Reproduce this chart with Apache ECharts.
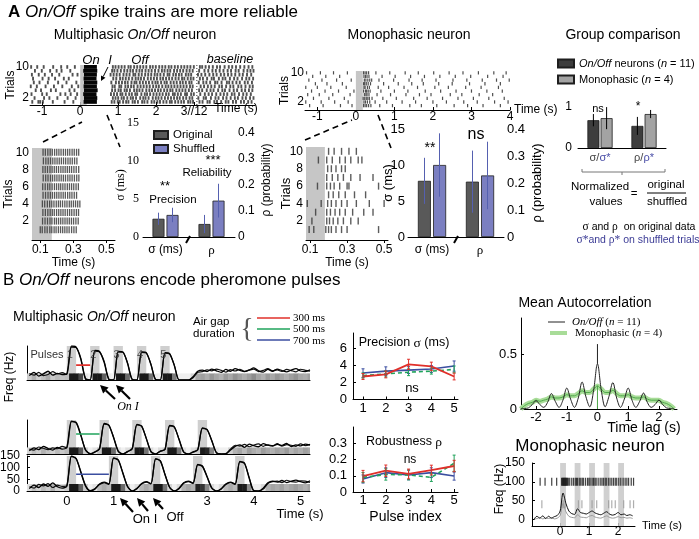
<!DOCTYPE html>
<html><head><meta charset="utf-8">
<script src="https://cdn.jsdelivr.net/npm/echarts@6/dist/echarts.min.js"></script>
<style>html,body{margin:0;padding:0;background:#fff}#c{width:699px;height:539px}</style>
</head><body><div id="c"></div>
<script>
const SANS='Liberation Sans, Arial, sans-serif';
const SERIF='Liberation Serif, Times New Roman, serif';

// ================= DATA =================
const mpRaster=[
 [-1.26,-1.1,-1.05,-0.98,-0.72,-0.41,-0.18,0.83,0.9,0.99,1.04,1.13,1.21,1.27,1.38,1.44,1.52,1.63,1.69,1.77,1.88,1.95,2.03,2.1,2.19,2.27,2.36,2.41,2.5,2.58,2.66,2.73,2.84,2.9,2.97,3.14,3.22,3.35,3.41,3.53,3.6,3.71,3.83,3.9,4.02,4.1,4.23,4.31,4.42,4.51],
 [-1.2,-0.95,-0.81,-0.6,-0.33,-0.12,0.86,0.93,1.0,1.09,1.15,1.24,1.33,1.39,1.47,1.58,1.66,1.72,1.8,1.91,1.99,2.06,2.14,2.23,2.31,2.39,2.47,2.55,2.62,2.71,2.79,2.88,2.95,3.11,3.25,3.31,3.44,3.56,3.64,3.76,3.85,3.96,4.07,4.15,4.27,4.36,4.47,4.56],
 [-1.28,-1.0,-0.88,-0.52,-0.39,-0.25,-0.08,0.81,0.89,0.97,1.06,1.11,1.2,1.29,1.36,1.45,1.5,1.61,1.7,1.76,1.84,1.93,2.01,2.09,2.17,2.26,2.33,2.44,2.49,2.57,2.65,2.76,2.81,2.92,2.99,3.16,3.28,3.38,3.47,3.58,3.69,3.78,3.87,3.99,4.06,4.18,4.29,4.38,4.49],
 [-1.17,-1.03,-0.77,-0.64,-0.28,-0.15,0.84,0.92,1.01,1.07,1.17,1.23,1.31,1.42,1.49,1.56,1.64,1.74,1.82,1.89,1.97,2.05,2.12,2.21,2.29,2.37,2.43,2.53,2.61,2.69,2.77,2.86,2.94,3.13,3.21,3.33,3.43,3.51,3.63,3.74,3.81,3.93,4.04,4.13,4.25,4.34,4.44,4.53],
 [-1.3,-1.14,-0.91,-0.69,-0.47,-0.22,-0.05,0.85,0.91,1.03,1.08,1.19,1.26,1.34,1.41,1.51,1.59,1.67,1.75,1.83,1.92,2.0,2.07,2.16,2.25,2.32,2.4,2.48,2.56,2.64,2.72,2.8,2.89,2.96,3.17,3.26,3.36,3.45,3.54,3.66,3.73,3.84,3.95,4.03,4.16,4.24,4.35,4.46,4.54],
 [-1.22,-1.07,-0.85,-0.58,-0.36,-0.1,0.82,0.94,1.02,1.1,1.18,1.25,1.35,1.43,1.48,1.57,1.65,1.73,1.81,1.9,1.98,2.04,2.13,2.22,2.28,2.38,2.46,2.54,2.63,2.7,2.78,2.87,2.93,3.12,3.24,3.32,3.42,3.55,3.61,3.72,3.86,3.92,4.01,4.11,4.2,4.33,4.41,4.52],
 [-1.24,-0.99,-0.83,-0.66,-0.43,-0.3,0.87,0.95,1.05,1.12,1.2,1.28,1.37,1.46,1.53,1.6,1.68,1.78,1.86,1.94,2.02,2.11,2.18,2.26,2.34,2.42,2.51,2.59,2.68,2.74,2.83,2.91,2.98,3.15,3.23,3.34,3.46,3.52,3.65,3.75,3.82,3.94,4.05,4.14,4.26,4.37,4.45,4.55],
 [-1.27,-1.09,-0.93,-0.74,-0.55,-0.2,-0.07,0.8,0.88,0.96,1.04,1.14,1.22,1.3,1.4,1.45,1.54,1.62,1.71,1.79,1.87,1.96,2.03,2.11,2.2,2.3,2.35,2.45,2.52,2.6,2.67,2.78,2.85,2.92,3.1,3.19,3.29,3.4,3.5,3.59,3.7,3.79,3.89,3.98,4.08,4.19,4.28,4.39,4.5],
 [-1.19,-1.01,-0.79,-0.62,-0.49,-0.26,0.84,0.9,0.98,1.07,1.16,1.24,1.32,1.39,1.48,1.56,1.63,1.72,1.8,1.88,1.97,2.06,2.15,2.22,2.3,2.37,2.47,2.55,2.63,2.71,2.8,2.88,2.96,3.13,3.27,3.37,3.48,3.57,3.67,3.77,3.88,3.97,4.09,4.17,4.3,4.4,4.48,4.56],
 [-1.29,-1.13,-0.96,-0.71,-0.5,-0.34,-0.14,0.86,0.93,1.01,1.09,1.17,1.27,1.33,1.42,1.5,1.58,1.66,1.74,1.84,1.91,1.99,2.08,2.16,2.24,2.33,2.4,2.49,2.57,2.66,2.74,2.82,2.9,2.99,3.15,3.21,3.3,3.39,3.49,3.6,3.68,3.8,3.91,4.0,4.1,4.21,4.32,4.43,4.53]
];
const mpOnBurst=[[0.09,0.44],[0.1,0.45],[0.08,0.43],[0.1,0.46],[0.09,0.44],[0.1,0.45],[0.09,0.43],[0.1,0.44],[0.08,0.45],[0.1,0.44]];
const mpStim=[0,0.17];
const mpBreakTime=3.07;
const mpZoomRaster=[
 [0.1,0.112,0.128,0.142,0.158,0.17,0.184,0.196,0.21,0.223,0.236,0.249,0.262,0.275,0.29,0.304,0.318],
 [0.114,0.129,0.144,0.159,0.171,0.186,0.198,0.211,0.224,0.237,0.25,0.263,0.276,0.289,0.302,0.316,0.33],
 [0.116,0.131,0.146,0.16,0.173,0.185,0.199,0.212,0.225,0.238,0.251,0.265,0.278,0.291,0.305,0.319,0.332],
 [0.113,0.127,0.143,0.157,0.17,0.183,0.197,0.21,0.222,0.235,0.249,0.262,0.276,0.288,0.301,0.314,0.327,0.34],
 [0.117,0.132,0.147,0.161,0.174,0.187,0.2,0.213,0.226,0.239,0.252,0.266,0.279,0.292,0.306,0.32],
 [0.115,0.13,0.145,0.158,0.172,0.186,0.199,0.212,0.224,0.237,0.25,0.264,0.277,0.29,0.303,0.317,0.331],
 [0.118,0.133,0.147,0.162,0.175,0.188,0.201,0.214,0.227,0.24,0.253,0.267,0.28,0.293,0.307,0.321,0.334],
 [0.116,0.13,0.144,0.159,0.172,0.185,0.198,0.211,0.225,0.238,0.251,0.264,0.277,0.29,0.304,0.318,0.333],
 [0.119,0.134,0.148,0.162,0.176,0.189,0.202,0.215,0.228,0.241,0.254,0.268,0.281,0.294,0.308,0.322],
 [0.117,0.131,0.146,0.16,0.173,0.187,0.2,0.213,0.226,0.24,0.253,0.266,0.279,0.293,0.306,0.32,0.333]
];
const monoRaster=[
 [-1.2,-0.85,-0.4,-0.1,0.2,0.24,0.28,0.33,0.39,0.62,0.95,1.4,1.7,2.1,2.55,2.9,3.3,3.75],
 [-1.3,-0.9,-0.55,-0.2,0.21,0.25,0.3,0.36,0.5,0.8,1.2,1.55,2.0,2.35,2.8,3.15,3.6,3.95],
 [-1.1,-0.7,-0.3,0.19,0.23,0.27,0.31,0.35,0.42,0.7,1.05,1.5,1.85,2.25,2.65,3.05,3.45,3.85],
 [-1.25,-0.95,-0.6,-0.15,0.22,0.26,0.29,0.34,0.55,0.9,1.3,1.65,1.95,2.45,2.75,3.2,3.55],
 [-1.15,-0.8,-0.45,-0.05,0.2,0.25,0.28,0.32,0.37,0.65,1.0,1.35,1.8,2.2,2.6,3.0,3.4,3.8],
 [-1.3,-1.0,-0.65,-0.25,0.21,0.24,0.3,0.35,0.58,0.85,1.25,1.6,2.05,2.4,2.85,3.25,3.7],
 [-1.05,-0.75,-0.35,0.2,0.23,0.27,0.32,0.38,0.72,1.1,1.45,1.75,2.15,2.5,2.95,3.35,3.75],
 [-1.22,-0.88,-0.5,-0.12,0.22,0.26,0.31,0.36,0.41,0.6,0.98,1.38,1.72,2.08,2.52,2.88,3.28,3.65,3.98],
 [-1.12,-0.78,-0.42,0.21,0.25,0.29,0.34,0.68,1.02,1.42,1.78,2.18,2.58,2.98,3.42,3.82],
 [-1.28,-0.92,-0.58,-0.22,0.2,0.24,0.28,0.33,0.52,0.88,1.28,1.62,2.02,2.42,2.78,3.18,3.58,3.9]
];
const monoStim=[0,0.18];
const monoZoomRaster=[
 [0.095,0.12,0.185,0.2,0.215,0.24,0.27,0.3,0.47],
 [0.11,0.19,0.205,0.225,0.25,0.28,0.32,0.36],
 [0.13,0.19,0.21,0.235,0.26,0.29,0.33,0.39,0.44],
 [0.085,0.16,0.195,0.215,0.24,0.27,0.3,0.35,0.42,0.5],
 [0.2,0.225,0.255,0.29,0.34,0.4],
 [0.14,0.19,0.21,0.23,0.26,0.3,0.31,0.47],
 [0.19,0.22,0.25,0.28,0.32,0.37,0.44],
 [0.195,0.215,0.24,0.27,0.29],
 [0.145,0.19,0.22,0.26,0.29,0.32,0.36,0.38],
 [0.2,0.23,0.27,0.31,0.35]
];
const barCats=['σ (ms)','ρ'];
const mpOrig=[2.4,0.05], mpOrigErr=[0.8,0.035];
const mpShuf=[2.9,0.14], mpShufErr=[0.95,0.065];
const monoOrig=[7.8,0.205], monoOrigErr=[3.2,0.115];
const monoShuf=[10,0.228], monoShufErr=[4.4,0.125];
const groupCats=['σ/σ*','ρ/ρ*'];
const groupOnOff=[0.68,0.54], groupOnOffErr=[0.15,0.22];
const groupMono=[0.73,0.83], groupMonoErr=[0.27,0.1];
const pulseDur=0.2;
const pulses300=[0,0.5,1,1.5,2];
const pulses500=[0,0.7,1.4,2.1,2.8];
const pulses700=[0,0.9,1.8,2.7,3.6];
const psthT0=-0.8, psthStep=0.1;
const sub1A=[20,35,18,28,40,22,30,25, 28,155,150,95,5, 0,135,130,80,3, 0,130,128,75,2, 0,128,125,70,2, 0,125,120,65,0, 0,0,15,40, 45,38,50,42,35,48,40,52,44,38,46,55,42,36,48,40,50,43,37,45,52,41,38,46];
const sub1B=[30,22,35,20,25,38,28,34, 25,150,148,100,8, 0,132,128,85,4, 0,128,126,78,3, 0,126,122,72,2, 0,122,118,68,0, 0,0,10,35, 38,46,42,50,44,36,47,41,49,39,45,50,38,44,52,42,46,39,48,43,37,49,44,40];
const sub2A=[15,28,20,35,25,18,30,22, 30,150,142,85,20,0,8, 25,139,132,75,12,0,10, 25,135,128,70,10,0,12, 22,130,124,66,8,0,10, 20,119,112,60,5,0,0,18, 35,42,30,45,38,33,47,40,36,44,39,48,34,42,37,45,40];
const sub2B=[22,18,32,26,20,28,24,35, 28,148,145,88,18,2,10, 22,136,130,78,14,0,12, 24,133,126,72,12,0,14, 20,128,122,68,10,0,8, 18,117,110,62,6,0,2,22, 40,36,44,33,41,46,35,42,38,47,36,43,40,35,46,38,44];
const sub3A=[10,25,15,30,20,35,18,12, 20,150,138,80,22,0,8,30,38, 30,142,132,75,18,0,10,32,40, 32,139,128,70,15,0,12,35,42, 35,114,105,60,12,0,10,30,38, 30,127,118,55,0,0,12,35,42, 38,45,36,42,47,40,35,44];
const sub3B=[18,12,28,22,32,15,25,20, 22,148,140,84,25,2,10,28,35, 28,140,134,78,20,0,12,30,38, 30,137,130,72,16,0,10,33,40, 32,112,108,62,14,0,8,28,36, 28,125,120,58,2,0,8,32,40, 42,36,46,40,38,44,42,37];
const freqTicksA=[0,100], freqTicksB=[50,150];
const sigmaTicks=[0,5,10,15];
const gapLineHz=[68,91,72];
const pulseLabelHz=114;
const pulseIdx=[1,2,3,4,5];
const precRed=[2.7,2.94,4.12,3.88,2.7], precRedErr=[0.35,0.4,0.6,0.5,0.4];
const precGreen=[2.82,3.0,3.2,3.33,3.53], precGreenErr=[0.3,0.35,0.4,0.35,0.4];
const precBlue=[3.1,3.33,3.45,3.57,3.92], precBlueErr=[0.5,0.5,0.4,0.4,0.6];
const robRed=[0.098,0.131,0.111,0.135,0.16], robRedErr=[0.035,0.035,0.03,0.03,0.035];
const robGreen=[0.09,0.108,0.105,0.09,0.177], robGreenErr=[0.03,0.035,0.03,0.025,0.05];
const robBlue=[0.08,0.119,0.105,0.119,0.098], robBlueErr=[0.025,0.03,0.03,0.03,0.025];
const acfT0=-2.5, acfStep=0.125;
const acfOnOff=[0.0,0.005,0.01,0.04,0.075,0.04,0.015,0.06,0.14,0.07,0.015,0.08,0.19,0.09,0.015,0.1,0.245,0.11,0.02,0.17,0.41,0.17,0.02,0.115,0.24,0.1,0.015,0.09,0.19,0.08,0.015,0.07,0.145,0.06,0.015,0.04,0.08,0.04,0.01,0.005,0.0];
const acfOnOffZeroLag=0.59;
const acfMono=[0.0,0.03,0.05,0.06,0.08,0.07,0.08,0.09,0.11,0.1,0.1,0.11,0.13,0.12,0.12,0.14,0.165,0.15,0.15,0.18,0.21,0.18,0.15,0.15,0.17,0.14,0.12,0.12,0.13,0.11,0.1,0.1,0.11,0.09,0.08,0.08,0.08,0.06,0.05,0.03,0.0];
const monoPulses=[0,0.5,1,1.5,2];
const monoT0=-0.9, monoStep=0.1;
const monoPsth=[0,8,3,9,2,8,3,7,10,22,70,42,22,15,13,28,18,16,14,18,22,17,14,12,16,20,14,11,13,18,12,14,10,12,9];
const monoPsthGray=[0,2,4,1,3,2,4,1,3,10,42,20,8,5,4,12,6,5,4,8,10,6,4,3,6,9,5,3,4,7,4,5,3,4,2];
const monoSpikes100=[-0.69,-0.52,-0.29,-0.12,0.05,0.08,0.1,0.12,0.14,0.16,0.18,0.2,0.22,0.25,0.28,0.33,0.4,0.46,0.52,0.56,0.6,0.66,0.71,0.76,0.8,0.87,0.94,0.99,1.03,1.1,1.15,1.2,1.24,1.31,1.38,1.44,1.49,1.55,1.59,1.66,1.72,1.78,1.84,1.9,1.95,2.02,2.09,2.17,2.24,2.3,2.36,2.45,2.53];
const monoSpikes50=[-0.63,0.06,0.11,0.17,0.63,0.75,1.1,1.26,1.67,1.78,1.9,2.19,2.41,2.53];
const monoRowHz=[100,40];

// ================= BUILD =================
const psthT=sub1A.map((_,i)=>+(psthT0+i*psthStep).toFixed(3));
const acfLag=acfOnOff.map((_,i)=>+(acfT0+i*acfStep).toFixed(3));
const monoT=monoPsth.map((_,i)=>+(monoT0+i*monoStep).toFixed(3));
const RED='#e0302a', GREEN='#1fa35b', BLUE='#3b4ea0', ERRB='#5560b0';

const NS={show:false};
const AL={onZero:false,lineStyle:{color:'#000',width:1}};
const NOL={show:false,onZero:false};
const LAB=o=>Object.assign({color:'#000',fontSize:12,fontFamily:SANS,hideOverlap:false},o||{});
const vA=(gi,min,max,o)=>Object.assign({gridIndex:gi,type:'value',min,max,splitLine:NS,axisLine:AL,axisTick:NS,axisLabel:{show:false},nameMoveOverlap:false},o||{});
const tk=(v,o)=>Object.assign({customValues:v,inside:true,length:3,lineStyle:{color:'#000'}},o||{});
const lb=(v,o)=>LAB(Object.assign({customValues:v,showMinLabel:true,showMaxLabel:true},o||{}));

const grid=[
 {left:30,top:65,width:225,height:40},
 {left:32,top:148,width:83,height:92},
 {left:143,top:123,width:45,height:114},
 {left:188,top:123,width:47,height:114},
 {left:305,top:71,width:205,height:39},
 {left:306,top:147,width:82,height:93},
 {left:408,top:129,width:48,height:108},
 {left:456,top:129,width:48,height:108},
 {left:578,top:103,width:88,height:45},
 {left:27,top:346,width:283,height:34},
 {left:27,top:420,width:283,height:34},
 {left:27,top:456,width:283,height:35},
 {left:353,top:333,width:105,height:66.5},
 {left:353,top:427,width:105,height:65},
 {left:521,top:318,width:156,height:91},
 {left:532,top:463,width:103,height:63}
].map(g=>Object.assign({outerBoundsMode:'none',containLabel:false},g));

const catX=(gi,data,o)=>Object.assign({gridIndex:gi,type:'category',data,axisLine:AL,axisTick:NS,axisLabel:LAB({margin:7,interval:0})},o||{});
const xAxis=[
 vA(0,-1.32,4.6,{axisTick:tk([-1,0,1,2,3]),axisLabel:lb([-1,0,1,2,3],{margin:1,formatter:v=>v===3?'3//12':String(v)})}),
 vA(1,0.05,0.553,{axisTick:tk([0.1,0.3,0.5],{inside:false}),axisLabel:lb([0.1,0.3,0.5],{margin:4}),name:'Time (s)',nameLocation:'middle',nameGap:17,nameTextStyle:LAB()}),
 catX(2,[barCats[0]]),
 catX(3,[barCats[1]],{axisLabel:LAB({margin:7,interval:0,fontFamily:SERIF,fontSize:13})}),
 vA(4,-1.32,4.0,{axisTick:tk([-1,0,1,2,3,4]),axisLabel:lb([-1,0,1,2,3,4],{margin:1}),name:'Time (s)',nameLocation:'end',nameGap:4,nameTextStyle:LAB()}),
 vA(5,0.078,0.521,{axisTick:tk([0.1,0.3,0.5],{inside:false}),axisLabel:lb([0.1,0.3,0.5],{margin:4}),name:'Time (s)',nameLocation:'middle',nameGap:17,nameTextStyle:LAB()}),
 catX(6,[barCats[0]]),
 catX(7,[barCats[1]],{axisLabel:LAB({margin:7,interval:0,fontFamily:SERIF,fontSize:13})}),
 catX(8,groupCats,{axisLabel:LAB({margin:4,interval:0,fontSize:11,color:'#444',formatter:v=>{const p=v.split('/');return p[0]+'/{b|'+p[1]+'}';},rich:{b:{color:'#4b4fa8',fontSize:11,fontFamily:SANS}}})}),
 vA(9,-0.85,5.2,{axisTick:tk([0,1,2,3,4,5])}),
 vA(10,-0.85,5.2,{axisTick:tk([0,1,2,3,4,5])}),
 vA(11,-0.85,5.2,{axisTick:tk([0,1,2,3,4,5]),axisLabel:lb([0,1,3,4,5],{margin:4,fontSize:13})}),
 vA(12,0.56,5.17,{axisTick:tk(pulseIdx),axisLabel:lb(pulseIdx,{fontSize:13,margin:2})}),
 vA(13,0.56,5.17,{axisTick:tk(pulseIdx),axisLabel:lb(pulseIdx,{fontSize:13,margin:2}),name:'Pulse index',nameLocation:'middle',nameGap:18,nameTextStyle:LAB({fontSize:14})}),
 vA(14,-2.49,2.59,{axisTick:tk([-2,-1,0,1,2]),axisLabel:lb([-2,-1,0,1,2],{fontSize:13,margin:2})}),
 vA(15,-0.97,2.58,{axisTick:tk([0,1,2]),axisLabel:lb([0,1,2],{fontSize:12,margin:0}),name:'Time (s)',nameLocation:'end',nameGap:7,nameTextStyle:LAB({fontSize:11})})
];
const yAxis=[
 vA(0,0.2,10.5,{axisLine:NOL,axisLabel:lb([2,10],{margin:1}),name:'Trials',nameLocation:'middle',nameGap:13,nameTextStyle:LAB()}),
 vA(1,-0.2,10.5,{axisLine:NOL,axisLabel:lb([2,4,6,8,10],{margin:3}),name:'Trials',nameLocation:'middle',nameGap:17,nameTextStyle:LAB()}),
 vA(2,0,15,{position:'left',axisTick:tk(sigmaTicks)}),
 vA(3,0,0.439,{position:'right',axisTick:tk([0,0.1,0.2,0.3,0.4]),axisLabel:lb([0,0.1,0.2,0.3,0.4],{margin:3}),name:'ρ (probability)',nameLocation:'middle',nameGap:26,nameRotate:90,nameTextStyle:LAB()}),
 vA(4,-0.2,10.5,{axisLine:NOL,axisLabel:lb([2,10],{margin:1}),name:'Trials',nameLocation:'middle',nameGap:14,nameTextStyle:LAB()}),
 vA(5,-0.2,10.5,{axisLine:NOL,axisLabel:lb([2,4,6,8,10],{margin:3}),name:'Trials',nameLocation:'middle',nameGap:13,nameTextStyle:LAB({fontSize:13})}),
 vA(6,0,15,{position:'left',axisTick:tk(sigmaTicks),axisLabel:lb(sigmaTicks,{margin:3,fontSize:13}),name:'σ (ms)',nameLocation:'middle',nameGap:13,nameTextStyle:LAB({fontSize:13})}),
 vA(7,0,0.4,{position:'right',axisTick:tk([0,0.1,0.2,0.3,0.4]),axisLabel:lb([0,0.1,0.2,0.3,0.4],{margin:3,fontSize:13}),name:'ρ (probability)',nameLocation:'middle',nameGap:27,nameRotate:90,nameTextStyle:LAB({fontSize:13})}),
 vA(8,0,1.1,{axisLabel:lb([0,1],{margin:6,fontSize:12})}),
 vA(9,0,155,{}),
 vA(10,0,155,{}),
 vA(11,0,150,{position:'left',axisTick:tk([0,50,100,150]),axisLabel:lb(freqTicksA,{margin:7,fontSize:12})}),
 vA(12,0,7.8,{axisTick:tk([0,2,4,6]),axisLabel:lb([0,2,4,6],{fontSize:13,margin:6})}),
 vA(13,0,0.4,{axisTick:tk([0,0.1,0.2,0.3]),axisLabel:lb([0,0.1,0.2,0.3],{fontSize:13,margin:6})}),
 vA(14,0,0.827,{axisTick:tk([0,0.5]),axisLabel:lb([0,0.5],{fontSize:13,margin:4})}),
 vA(15,-18,150,{axisTick:tk([0,50,100,150]),axisLabel:lb([0,50,100,150],{fontSize:12,margin:7})}),
 vA(11,0,150,{position:'left',offset:0,axisLine:NOL,axisLabel:lb(freqTicksB,{margin:7,fontSize:12})})
];

const S=[];
const ax=gi=>({xAxisIndex:gi,yAxisIndex:gi,silent:true});
function bands(gi,intervals,color,z){
 S.push(Object.assign(ax(gi),{type:'custom',z:z||1,encode:{x:[0,1]},data:intervals,
  renderItem:(p,api)=>{const cs=p.coordSys;let a=api.coord([api.value(0),0])[0],b=api.coord([api.value(1),0])[0];
   a=Math.max(a,cs.x);b=Math.min(b,cs.x+cs.width);if(b<=a)return null;
   return {type:'rect',shape:{x:a,y:cs.y,width:b-a,height:cs.height},style:{fill:color}};}}));
}
function raster(gi,rows,size,color){
 S.push(Object.assign(ax(gi),{type:'scatter',z:3,symbol:'rect',symbolSize:size,itemStyle:{color},
  data:rows.flatMap((r,i)=>r.map(t=>[t,i+1]))}));
}
function errs(gi,pts,color,off,cap){
 S.push(Object.assign(ax(gi),{type:'custom',z:8,data:pts,
  renderItem:(p,api)=>{const x=api.value(0),y=api.value(1),e=api.value(2),sd=api.value(3)||0;
   const a=api.coord([x,y+e]),b=api.coord([x,y-e]);const cx=a[0]+sd*off;
   const st={stroke:color,lineWidth:1};
   const ch=[{type:'line',shape:{x1:cx,y1:a[1],x2:cx,y2:b[1]},style:st}];
   if(cap){ch.push({type:'line',shape:{x1:cx-cap,y1:a[1],x2:cx+cap,y2:a[1]},style:st});
    ch.push({type:'line',shape:{x1:cx-cap,y1:b[1],x2:cx+cap,y2:b[1]},style:st});}
   return {type:'group',children:ch};}}));
}
function line(gi,xs,ys,color,width,o){
 S.push(Object.assign(ax(gi),{type:'line',z:5,symbol:'none',data:xs.map((x,i)=>[x,ys[i]]),lineStyle:{color,width}},o||{}));
}
function bars(gi,name,val,color,o){
 S.push(Object.assign(ax(gi),{type:'bar',name,data:val,barWidth:12,barGap:'17%',z:4,
  itemStyle:{color,borderColor:'#1e1e1e',borderWidth:0.8}},o||{}));
}
function rateBand(gi,ts,rates,topHz){
 S.push(Object.assign(ax(gi),{type:'custom',z:2,data:ts.map((t,i)=>[t,rates[i]]),
  renderItem:(p,api)=>{const cs=p.coordSys;const t=api.value(0),r=api.value(1);
   const a=api.coord([t-psthStep/2,0]),b=api.coord([t+psthStep/2,0]),tp=api.coord([t,topHz]);
   const x0=Math.max(a[0],cs.x),x1=Math.min(b[0]+0.5,cs.x+cs.width);if(x1<=x0)return null;
   const g=Math.round(240-Math.min(1,r/120)*215);
   return {type:'rect',shape:{x:x0,y:tp[1],width:x1-x0,height:a[1]-tp[1]},style:{fill:'rgb('+g+','+g+','+g+')'}};}}));
}

bands(0,[mpStim],'#c6c6c6');
S.push(Object.assign(ax(0),{type:'custom',z:3,data:mpOnBurst.map((b,i)=>[b[0],b[1],i+1]),encode:{x:[0,1],y:2},
 renderItem:(p,api)=>{const a=api.coord([api.value(0),api.value(2)+0.5]),b=api.coord([api.value(1),api.value(2)-0.5]);
  return {type:'rect',shape:{x:a[0],y:a[1],width:b[0]-a[0],height:b[1]-a[1]},style:{fill:'#050505'}};}}));
raster(0,mpRaster,[1.9,3.6],'#262626');
line(0,[mpBreakTime,mpBreakTime],[0.2,10.5],'#333',1,{lineStyle:{color:'#333',width:1,type:[1,2]}});
bands(1,[mpStim],'#c6c6c6');
raster(1,mpZoomRaster,[1.3,7],'#303030');
bars(2,'Original',[mpOrig[0]],'#595959');
bars(2,'Shuffled',[mpShuf[0]],'#7b7fc1');
errs(2,[[0,mpOrig[0],mpOrigErr[0],-1],[0,mpShuf[0],mpShufErr[0],1]],ERRB,7,0);
// sigma scale tick labels of the multiphasic bar chart, as point labels placed on the axis scale
S.push(Object.assign(ax(2),{type:'custom',z:20,data:sigmaTicks.map(v=>[0,v]),
 renderItem:(p,api)=>{const cs=p.coordSys;const y=api.coord([0,api.value(1)])[1];
  return {type:'text',x:cs.x-4,y:y,style:{text:String(api.value(1)),fontSize:12,fontFamily:SERIF,fill:'#000',align:'right',verticalAlign:'middle'}};}}));
bars(3,'Original',[mpOrig[1]],'#595959');
bars(3,'Shuffled',[mpShuf[1]],'#7b7fc1');
errs(3,[[0,mpOrig[1],mpOrigErr[1],-1],[0,mpShuf[1],mpShufErr[1],1]],ERRB,7,0);
bands(4,[monoStim],'#c6c6c6');
raster(4,monoRaster,[1.2,3.3],'#222');
bands(5,[monoStim],'#c6c6c6');
raster(5,monoZoomRaster,[1.4,7],'#333');
bars(6,'Original',[monoOrig[0]],'#595959',{barWidth:13});
bars(6,'Shuffled',[monoShuf[0]],'#7b7fc1',{barWidth:13});
errs(6,[[0,monoOrig[0],monoOrigErr[0],-1],[0,monoShuf[0],monoShufErr[0],1]],ERRB,7.5,0);
bars(7,'Original',[monoOrig[1]],'#595959',{barWidth:13});
bars(7,'Shuffled',[monoShuf[1]],'#7b7fc1',{barWidth:13});
errs(7,[[0,monoOrig[1],monoOrigErr[1],-1],[0,monoShuf[1],monoShufErr[1],1]],ERRB,7.5,0);
bars(8,'On/Off neurons (n = 11)',groupOnOff,'#3d3d3d',{barGap:'10%'});
bars(8,'Monophasic (n = 4)',groupMono,'#a3a3a3',{barGap:'10%'});
errs(8,[[0,groupOnOff[0],groupOnOffErr[0],-1],[1,groupOnOff[1],groupOnOffErr[1],-1],[0,groupMono[0],groupMonoErr[0],1],[1,groupMono[1],groupMonoErr[1],1]],'#000',6.6,0);
const subs=[[9,pulses300,sub1A,sub1B,RED],[10,pulses500,sub2A,sub2B,GREEN],[11,pulses700,sub3A,sub3B,BLUE]];
subs.forEach((s,k)=>{
 const [gi,pulses,a,b,col]=s;
 bands(gi,pulses.map(t=>[t,t+pulseDur]),'#cfcfcf');
 rateBand(gi,psthT,a,30);
 line(gi,psthT,b,'#111',1.2,{smooth:0.25,z:5});
 line(gi,psthT,a,'#000',1.3,{smooth:0.25,z:6});
 line(gi,[pulses[0]+pulseDur,pulses[1]],[gapLineHz[k],gapLineHz[k]],col,1.6,{z:7});
});
S.push(Object.assign(ax(9),{type:'scatter',z:7,symbolSize:0,data:pulses300.map(t=>[t,pulseLabelHz]),
 label:{show:true,position:'right',distance:0,formatter:p=>String(p.dataIndex+1),fontSize:11,fontFamily:SANS,color:'#333'}}));
line(12,pulseIdx,precBlue,BLUE,1.6);
line(12,pulseIdx,precGreen,GREEN,1.6,{lineStyle:{color:GREEN,width:1.6,type:[4,3]}});
line(12,pulseIdx,precRed,RED,1.8);
errs(12,pulseIdx.map((x,i)=>[x,precBlue[i],precBlueErr[i],0]),BLUE,0,1.5);
errs(12,pulseIdx.map((x,i)=>[x,precGreen[i],precGreenErr[i],0]),GREEN,0,1.5);
errs(12,pulseIdx.map((x,i)=>[x,precRed[i],precRedErr[i],0]),RED,0,1.5);
line(13,pulseIdx,robBlue,BLUE,1.6);
line(13,pulseIdx,robGreen,GREEN,1.6,{lineStyle:{color:GREEN,width:1.6,type:[4,3]}});
line(13,pulseIdx,robRed,RED,1.8);
errs(13,pulseIdx.map((x,i)=>[x,robBlue[i],robBlueErr[i],0]),BLUE,0,1.5);
errs(13,pulseIdx.map((x,i)=>[x,robGreen[i],robGreenErr[i],0]),GREEN,0,1.5);
errs(13,pulseIdx.map((x,i)=>[x,robRed[i],robRedErr[i],0]),RED,0,1.5);
line(14,acfLag,acfMono,'#a8dc98',5,{z:3,smooth:0.3});
line(14,acfLag,acfMono,'#4ea84a',1,{z:4,smooth:0.3});
line(14,[0,0],[0,acfMono[20]],'#4ea84a',1,{z:4});
line(14,acfLag,acfOnOff,'#222',1,{z:5,smooth:0.35});
line(14,[0,0],[acfOnOff[20],acfOnOffZeroLag],'#222',1,{z:5});
bands(15,monoPulses.map(t=>[t,t+pulseDur]),'#d0d0d0');
S.push(Object.assign(ax(15),{type:'scatter',z:3,symbol:'rect',symbolSize:[1.2,8],itemStyle:{color:'#111'},data:monoSpikes100.map(t=>[t,monoRowHz[0]])}));
S.push(Object.assign(ax(15),{type:'scatter',z:3,symbol:'rect',symbolSize:[1.2,8],itemStyle:{color:'#9a9a9a'},data:monoSpikes50.map(t=>[t,monoRowHz[1]])}));
line(15,monoT,monoPsthGray,'#999',1,{smooth:0.3});
line(15,monoT,monoPsth,'#111',1,{smooth:0.3});

// ================= ANNOTATIONS =================
const G=[];
const RI=(fs,fam)=>({i:{fontStyle:'italic',fontSize:fs,fontFamily:fam||SANS},b:{fontWeight:'bold',fontSize:fs,fontFamily:fam||SANS},s:{fontSize:fs+1,fontFamily:SERIF}});
const T=(x,y,text,o)=>G.push({type:'text',x,y,z:100,silent:true,style:Object.assign({text,fontSize:12,fontFamily:SANS,fill:'#000',align:'center',verticalAlign:'middle'},o||{})});
const TR=(x,y,text,o)=>G.push({type:'text',x,y,rotation:Math.PI/2,z:100,silent:true,style:Object.assign({text,fontSize:12,fontFamily:SANS,fill:'#000',align:'center',verticalAlign:'middle'},o||{})});
const L=(x1,y1,x2,y2,o)=>G.push({type:'line',z:100,silent:true,shape:{x1,y1,x2,y2},style:Object.assign({stroke:'#000',lineWidth:1},o||{})});
const PL=(pts,o)=>G.push({type:'polyline',z:100,silent:true,shape:{points:pts},style:Object.assign({stroke:'#000',lineWidth:1,fill:null},o||{})});
function AR(x1,y1,x2,y2,lw,h){const dx=x2-x1,dy=y2-y1,len=Math.hypot(dx,dy),ux=dx/len,uy=dy/len;const bx=x2-ux*h,by=y2-uy*h,px=-uy,py=ux;
 L(x1,y1,bx,by,{lineWidth:lw});
 G.push({type:'polygon',z:100,silent:true,shape:{points:[[x2,y2],[bx+px*h*0.5,by+py*h*0.5],[bx-px*h*0.5,by-py*h*0.5]]},style:{fill:'#000'}});}

T(8,12,'{b|A} {i|On/Off} spike trains are more reliable',{align:'left',fontSize:17,rich:RI(17)});
T(135,35,'Multiphasic {i|On/Off} neuron',{fontSize:14,rich:RI(14)});
T(409,35,'Monophasic neuron',{fontSize:14});
T(623,35,'Group comparison',{fontSize:14});
T(91,60,'On',{fontSize:13,fontStyle:'italic'});
T(110,60,'I',{fontSize:13,fontStyle:'italic'});
T(140,60,'Off',{fontSize:13,fontStyle:'italic'});
T(230,60,'baseline',{fontSize:12.5,fontStyle:'italic'});
AR(108,67,101,81,1,5);
T(236,109,'Time (s)');
L(43,142,82,122,{lineWidth:1.6,lineDash:[6,4]});
L(107,115,120,147,{lineWidth:1.6,lineDash:[6,4]});
L(305,140,352,120,{lineWidth:1.6,lineDash:[6,4]});
L(378,115,391,148,{lineWidth:1.6,lineDash:[6,4]});
TR(121,185,'σ (ms)',{fontSize:12,fontFamily:SERIF});
T(165,186,'**',{fontSize:13});
T(173,200,'Precision',{fontSize:11.5});
T(213,160,'***',{fontSize:13});
T(207,173,'Reliability',{fontSize:11.5});
L(186,243,190,236,{lineWidth:2});
T(430,148,'**',{fontSize:14});
T(476,135,'ns',{fontSize:16});
L(454,243,458,236,{lineWidth:2});
T(598,109,'ns',{fontSize:11});
T(638,107,'*',{fontSize:12});
PL([[582,169],[582,172],[665,172],[665,169]],{stroke:'#777'});
L(622,172,622,175,{stroke:'#777'});
T(600,187,'Normalized',{fontSize:11.5});
T(606,202,'values',{fontSize:11.5});
T(634,194,'=',{fontSize:11.5});
T(666,185,'original',{fontSize:11.5});
L(647,193,686,193);
T(667,202,'shuffled',{fontSize:11.5});
T(639,227,'{s|σ} and {s|ρ}  on original data',{fontSize:10.5,rich:RI(10.5)});
T(638,240,'{s|σ*}and {s|ρ*} on shuffled trials',{fontSize:10.5,fill:'#3c3c96',rich:{s:{fontSize:11.5,fontFamily:SERIF,fill:'#3c3c96'}}});
T(3,280,'B {i|On/Off} neurons encode pheromone pulses',{align:'left',fontSize:17,rich:RI(17)});
T(13,317,'Multiphasic {i|On/Off} neuron',{align:'left',fontSize:14,rich:RI(14)});
T(193,322,'Air gap',{align:'left',fontSize:11.5});
T(193,334,'duration',{align:'left',fontSize:11.5});
T(247,330,'{',{fontSize:28,fontFamily:SERIF,fill:'#555'});
L(257,318,290,318,{stroke:RED,lineWidth:1.6});
L(257,329,290,329,{stroke:GREEN,lineWidth:1.6});
L(257,340,290,340,{stroke:BLUE,lineWidth:1.6});
T(293,318,'300 ms',{align:'left',fontSize:11,fontFamily:SERIF});
T(293,329,'500 ms',{align:'left',fontSize:11,fontFamily:SERIF});
T(293,341,'700 ms',{align:'left',fontSize:11,fontFamily:SERIF});
TR(10,377,'Freq (Hz)',{fontSize:12});
T(47,355,'Pulses',{fontSize:11,fill:'#333'});
AR(115,399,100,385,2.2,8);
AR(130,399,116,385,2.2,8);
T(128,407,'On I',{fontSize:12,fontFamily:SERIF,fontStyle:'italic'});
AR(133,512,120,498,2.2,8);
AR(148,511,137,498,2.2,8);
AR(163,509,153,498,2.2,8);
T(145,519,'On I',{fontSize:13});
T(175,517,'Off',{fontSize:13});
T(300,514,'Time (s)',{fontSize:13});
T(404,343,'Precision {s|σ} (ms)',{fontSize:12.5,rich:RI(12.5)});
T(412,388,'ns',{fontSize:13});
T(404,442,'Robustness {s|ρ}',{fontSize:12.5,rich:RI(12.5)});
T(410,460,'ns',{fontSize:12});
T(585,303,'Mean Autocorrelation',{fontSize:14});
L(548,322,565,322,{stroke:'#222'});
T(572,322,'{i|On/Off} ({i|n} = 11)',{align:'left',fontSize:11,fontFamily:SERIF,rich:RI(11,SERIF)});
L(550,333,567,333,{stroke:'#a8dc98',lineWidth:4});
T(575,333,'Monophasic ({i|n} = 4)',{align:'left',fontSize:11,fontFamily:SERIF,rich:RI(11,SERIF)});
T(644,428,'Time lag (s)',{fontSize:14});
T(590,446,'Monophasic neuron',{fontSize:17});
TR(500,489,'Freq (Hz)',{fontSize:12});

const chart=echarts.init(document.getElementById('c'),null,{renderer:'canvas'});
chart.setOption({
 animation:false,
 backgroundColor:'#fff',
 textStyle:{fontFamily:SANS},
 grid,xAxis,yAxis,series:S,graphic:G,
 legend:[
  {data:['Original','Shuffled'],left:153,top:129,orient:'vertical',itemWidth:14,itemHeight:8,itemGap:2,padding:0,icon:'rect',selectedMode:false,
   textStyle:{fontSize:11.5,fontFamily:SANS,color:'#000'}},
  {data:['On/Off neurons (n = 11)','Monophasic (n = 4)'],left:557,top:58,orient:'vertical',itemWidth:16,itemHeight:8,itemGap:5,padding:0,icon:'rect',selectedMode:false,
   formatter:n=>n.indexOf('On')===0?'{i|On/Off} neurons ({i|n} = 11)':'Monophasic ({i|n} = 4)',
   textStyle:{fontSize:11,fontFamily:SANS,color:'#000',rich:{i:{fontStyle:'italic',fontSize:11,fontFamily:SANS}}}}
 ]
});
</script></body></html>
